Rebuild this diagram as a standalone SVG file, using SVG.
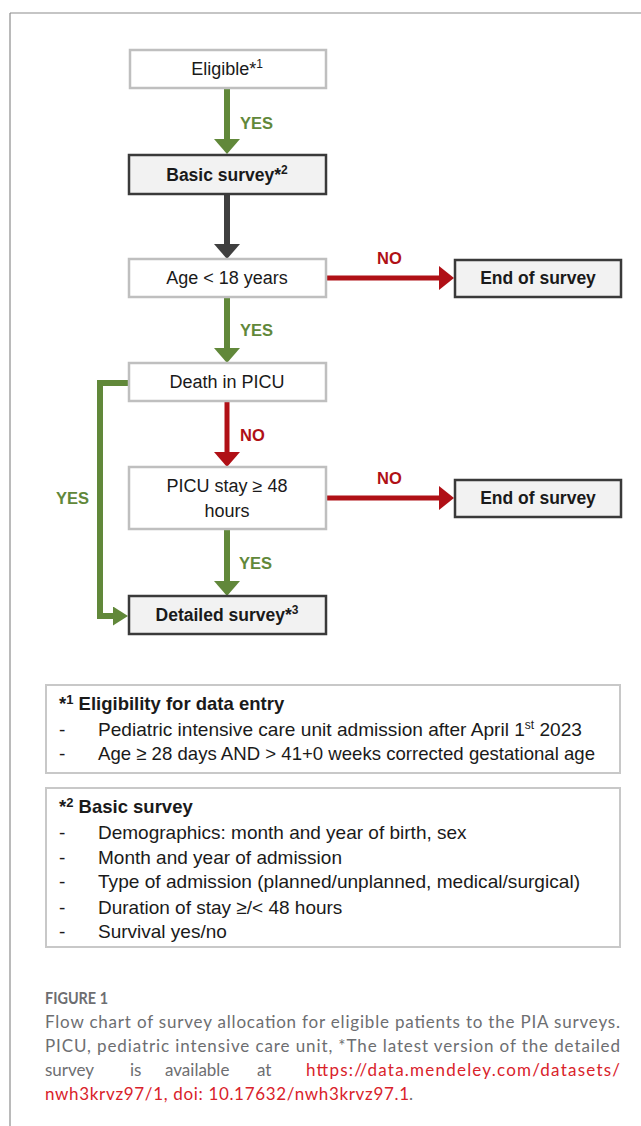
<svg xmlns="http://www.w3.org/2000/svg" width="641" height="1126" viewBox="0 0 641 1126">
<style>
.nl{fill:#ffffff;stroke:#bfbfbf;stroke-width:2.5}
.nd{fill:#f2f2f2;stroke:#3a3a3a;stroke-width:2.5}
.fb{fill:#ffffff;stroke:#c8c8c8;stroke-width:2}
.t{font-family:"Liberation Sans",Arial,sans-serif;font-size:18px;fill:#1a1a1a;text-anchor:middle}
.tb{font-family:"Liberation Sans",Arial,sans-serif;font-size:17.5px;font-weight:bold;fill:#1a1a1a;text-anchor:middle}
.yes{font-family:"Liberation Sans",Arial,sans-serif;font-size:16.5px;font-weight:bold;fill:#61883a}
.no{font-family:"Liberation Sans",Arial,sans-serif;font-size:16.5px;font-weight:bold;fill:#b01016}
.f{font-family:"Liberation Sans",Arial,sans-serif;font-size:19px;fill:#1a1a1a}
.fh{font-family:"Liberation Sans",Arial,sans-serif;font-size:18.5px;font-weight:bold;fill:#1a1a1a}
.cap{font-family:Lato,"Open Sans",sans-serif;font-size:17px;fill:#6d6e71}
.link{fill:#d9222a}
.g{stroke:#61883a;stroke-width:6;fill:none}
.r{stroke:#b01016;stroke-width:5;fill:none}
.k{stroke:#3f3f3f;stroke-width:6;fill:none}
</style>
<defs>
<marker id="ag" markerUnits="userSpaceOnUse" markerWidth="15" markerHeight="26" refX="0" refY="13" orient="auto" viewBox="0 0 15 26"><path d="M0,0 L15,13 L0,26 z" fill="#61883a"/></marker>
<marker id="ak" markerUnits="userSpaceOnUse" markerWidth="15" markerHeight="26" refX="0" refY="13" orient="auto" viewBox="0 0 15 26"><path d="M0,0 L15,13 L0,26 z" fill="#3f3f3f"/></marker>
<marker id="ar" markerUnits="userSpaceOnUse" markerWidth="15" markerHeight="26" refX="0" refY="13" orient="auto" viewBox="0 0 15 26"><path d="M0,0 L15,13 L0,26 z" fill="#b01016"/></marker>
<marker id="arh" markerUnits="userSpaceOnUse" markerWidth="15" markerHeight="24" refX="0" refY="12" orient="auto" viewBox="0 0 15 24"><path d="M0,0 L15,12 L0,24 z" fill="#b01016"/></marker>
<marker id="agh" markerUnits="userSpaceOnUse" markerWidth="15" markerHeight="19" refX="0" refY="9.5" orient="auto" viewBox="0 0 15 19"><path d="M0,0 L15,9.5 L0,19 z" fill="#61883a"/></marker>
</defs>

<g id="frame">
<line x1="10" y1="13" x2="641" y2="13" stroke="#8c8c8c" stroke-width="1.2"/>
<line x1="10" y1="13" x2="10" y2="1126" stroke="#8c8c8c" stroke-width="1.2"/>
</g>

<g id="connectors">
<line class="g" x1="227" y1="89" x2="227" y2="139" marker-end="url(#ag)"/>
<line class="k" x1="227" y1="195" x2="227" y2="244" marker-end="url(#ak)"/>
<line class="g" x1="227" y1="298" x2="227" y2="348" marker-end="url(#ag)"/>
<line class="r" x1="227" y1="402" x2="227" y2="452" marker-end="url(#ar)"/>
<line class="g" x1="227" y1="530" x2="227" y2="581" marker-end="url(#ag)"/>
<line class="r" x1="327" y1="278" x2="439" y2="278" marker-end="url(#arh)"/>
<line class="r" x1="327" y1="498" x2="439" y2="498" marker-end="url(#arh)"/>
<polyline class="g" stroke-width="5" points="128,383 100,383 100,616 113,616" marker-end="url(#agh)"/>
<text class="yes" x="240" y="129">YES</text>
<text class="yes" x="240" y="336">YES</text>
<text class="yes" x="239" y="569">YES</text>
<text class="yes" x="89" y="504" text-anchor="end">YES</text>
<text class="no" x="377" y="264">NO</text>
<text class="no" x="377" y="484">NO</text>
<text class="no" x="240" y="441">NO</text>
</g>

<g id="eligible">
<rect class="nl" x="130" y="50" width="196" height="38"/>
<text class="t" x="227" y="75">Eligible*<tspan font-size="12" dy="-7">1</tspan></text>
</g>
<g id="basic">
<rect class="nd" x="129" y="155" width="197" height="39"/>
<text class="tb" x="227" y="181">Basic survey*<tspan font-size="12" dy="-7">2</tspan></text>
</g>
<g id="age">
<rect class="nl" x="129" y="259" width="197" height="38"/>
<text class="t" x="227" y="284">Age &lt; 18 years</text>
</g>
<g id="end1">
<rect class="nd" x="455" y="260" width="166" height="37"/>
<text class="tb" x="538" y="284">End of survey</text>
</g>
<g id="death">
<rect class="nl" x="129" y="363" width="197" height="38"/>
<text class="t" x="227" y="388">Death in PICU</text>
</g>
<g id="stay">
<rect class="nl" x="129" y="467" width="197" height="62"/>
<text class="t" x="227" y="492">PICU stay ≥ 48</text>
<text class="t" x="227" y="517">hours</text>
</g>
<g id="end2">
<rect class="nd" x="455" y="480" width="166" height="37"/>
<text class="tb" x="538" y="504">End of survey</text>
</g>
<g id="detailed">
<rect class="nd" x="129" y="596" width="197" height="38"/>
<text class="tb" x="227" y="621">Detailed survey*<tspan font-size="12" dy="-7">3</tspan></text>
</g>

<g id="note1">
<rect class="fb" x="46" y="685" width="574" height="88"/>
<text class="fh" x="59" y="710">*<tspan font-size="13" dy="-6">1</tspan><tspan dy="6"> Eligibility for data entry</tspan></text>
<text class="f" x="59" y="736">-</text>
<text class="f" x="98" y="736" textLength="484" lengthAdjust="spacingAndGlyphs">Pediatric intensive care unit admission after April 1<tspan font-size="12" dy="-7">st</tspan><tspan dy="7"> 2023</tspan></text>
<text class="f" x="59" y="760">-</text>
<text class="f" x="98" y="760" textLength="497" lengthAdjust="spacingAndGlyphs">Age ≥ 28 days AND &gt; 41+0 weeks corrected gestational age</text>
</g>

<g id="note2">
<rect class="fb" x="46" y="788" width="574" height="159"/>
<text class="fh" x="59" y="813">*<tspan font-size="13" dy="-6">2</tspan><tspan dy="6"> Basic survey</tspan></text>
<text class="f" x="59" y="839">-</text>
<text class="f" x="98" y="839">Demographics: month and year of birth, sex</text>
<text class="f" x="59" y="864">-</text>
<text class="f" x="98" y="864">Month and year of admission</text>
<text class="f" x="59" y="888">-</text>
<text class="f" x="98" y="888" textLength="482" lengthAdjust="spacingAndGlyphs">Type of admission (planned/unplanned, medical/surgical)</text>
<text class="f" x="59" y="914">-</text>
<text class="f" x="98" y="914">Duration of stay ≥/&lt; 48 hours</text>
<text class="f" x="59" y="938">-</text>
<text class="f" x="98" y="938">Survival yes/no</text>
</g>

<g id="caption">
<text class="cap" x="45" y="1004" font-size="15" font-weight="bold" textLength="63" lengthAdjust="spacingAndGlyphs">FIGURE 1</text>
<text class="cap" x="45" y="1028" textLength="575" lengthAdjust="spacing">Flow chart of survey allocation for eligible patients to the PIA surveys.</text>
<text class="cap" x="45" y="1052" textLength="575" lengthAdjust="spacing">PICU, pediatric intensive care unit, *The latest version of the detailed</text>
<text class="cap" x="45" y="1076">survey</text>
<text class="cap" x="130" y="1076">is</text>
<text class="cap" x="165" y="1076">available</text>
<text class="cap" x="257" y="1076">at</text>
<text class="cap link" x="306" y="1076" textLength="314" lengthAdjust="spacing">https://data.mendeley.com/datasets/</text>
<text class="cap link" x="45" y="1100" textLength="364" lengthAdjust="spacing">nwh3krvz97/1, doi: 10.17632/nwh3krvz97.1</text>
<text class="cap" x="409" y="1100">.</text>
</g>
</svg>
